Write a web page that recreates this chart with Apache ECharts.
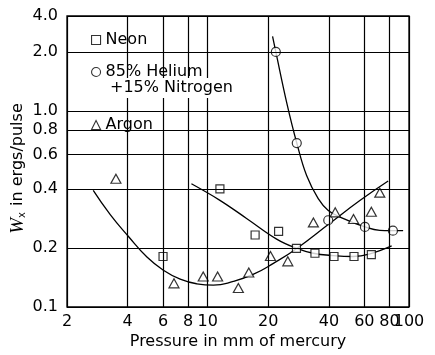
<!DOCTYPE html>
<html>
<head>
<meta charset="utf-8">
<script src="https://cdn.jsdelivr.net/npm/echarts@6/dist/echarts.min.js"></script>
<style>
  html, body { margin: 0; padding: 0; background: #fff; }
  #chart { width: 435px; height: 355px; }
</style>
</head>
<body>
<div id="chart"></div>
<script>
// ---- data ----
const neonX = [6.0, 11.5, 17.2, 22.5, 27.6, 34.1, 42.4, 53.3, 65.0];
const neonY = [0.181, 0.40, 0.233, 0.243, 0.199, 0.188, 0.181, 0.181, 0.185];

const heliumX = [21.8, 27.7, 39.7, 60.4, 83.2];
const heliumY = [2.0, 0.686, 0.277, 0.256, 0.245];

const argonX = [3.5, 6.8, 9.5, 11.2, 14.2, 16.0, 20.5, 25.0, 33.5, 43.0, 53.0, 65.0, 71.6];
const argonY = [0.451, 0.132, 0.143, 0.143, 0.125, 0.150, 0.182, 0.171, 0.270, 0.304, 0.281, 0.306, 0.383];

const neonCurveX = [8.3, 11.5, 15.6, 22.0, 27.7, 33.4, 42.0, 52.8, 63.4, 82.0];
const neonCurveY = [0.425, 0.35, 0.283, 0.222, 0.199, 0.188, 0.183, 0.181, 0.186, 0.205];

const heliumCurveX = [21.0, 21.8, 24.7, 27.7, 31.0, 35.4, 39.7, 47.0, 60.4, 71.6, 93.5];
const heliumCurveY = [2.4, 2.0, 1.10, 0.686, 0.468, 0.357, 0.311, 0.283, 0.256, 0.246, 0.245];

const argonCurveX = [2.7, 3.28, 4.04, 4.99, 6.03, 7.3, 8.83, 10.67, 13.4, 16.9, 21.2, 27.7, 40.0, 57.0, 78.8];
const argonCurveY = [0.393, 0.296, 0.229, 0.180, 0.154, 0.1386, 0.1313, 0.1293, 0.135, 0.147, 0.167, 0.199, 0.265, 0.349, 0.439];

// tick / grid values and labels
const xTickValues = [2, 4, 6, 8, 10, 20, 40, 60, 80, 100];
const xTickLabels = ['2', '4', '6', '8', '10', '20', '40', '60', '80', '100'];
const yTickValues = [0.1, 0.2, 0.4, 0.6, 0.8, 1.0, 2.0, 3.05]; // top of scale is compressed in the original
const yTickLabels = ['0.1', '0.2', '0.4', '0.6', '0.8', '1.0', '2.0', '4.0'];

const seriesNames = ['Neon', '85% Helium', 'Argon'];
const heliumSecondLine = '+15% Nitrogen';
const xTitle = 'Pressure in mm of mercury';

// ---- chart ----
const FONT = 'DejaVu Sans';
const zip = (xs, ys) => xs.map((x, i) => [x, ys[i]]);
const chart = echarts.init(document.getElementById('chart'), null, { renderer: 'canvas' });

const hollow = { color: '#fff', borderColor: '#000', borderWidth: 1.2 };
const curveStyle = { color: '#000', width: 1.3 };
const gridLineStyle = { color: '#000', width: 1.2, type: 'solid' };

const legendCommon = {
  orient: 'vertical',
  itemWidth: 9,
  itemHeight: 9,
  itemGap: 0,
  padding: [3, 4, 3, 4],
  backgroundColor: '#fff',
  selectedMode: false,
  itemStyle: { color: '#fff', borderColor: '#000', borderWidth: 1.1 },
  textStyle: { fontFamily: FONT, fontSize: 16, color: '#000', lineHeight: 18 }
};

const option = {
  animation: false,
  backgroundColor: '#fff',
  grid: { left: 67, right: 26, top: 16, bottom: 46, show: true, borderColor: '#000', borderWidth: 1.3, backgroundColor: 'transparent' },
  xAxis: {
    type: 'log', logBase: 10, min: 2, max: 100,
    axisLine: { show: false }, axisTick: { show: false }, axisLabel: { show: false }, splitLine: { show: false },
    name: xTitle, nameLocation: 'middle', nameGap: 27,
    nameTextStyle: { fontFamily: FONT, fontSize: 16, color: '#000' }
  },
  yAxis: {
    type: 'log', logBase: 10, min: 0.1, max: 3.05,
    axisLine: { show: false }, axisTick: { show: false }, axisLabel: { show: false }, splitLine: { show: false },
    name: '{w|W}{s|x} in ergs/pulse', nameLocation: 'middle', nameGap: 40,
    nameTextStyle: {
      fontFamily: FONT, fontSize: 16, color: '#000', padding: [0, 14, 0, 0],
      rich: {
        w: { fontFamily: 'Liberation Serif', fontStyle: 'italic', fontSize: 19, color: '#000' },
        s: { fontFamily: FONT, fontSize: 10, color: '#000', verticalAlign: 'bottom', padding: [0, 1, 0, 0] }
      }
    }
  },
  legend: [
    Object.assign({}, legendCommon, { data: [seriesNames[0]], left: 87, top: 28 }),
    Object.assign({}, legendCommon, { data: [seriesNames[1]], left: 87, top: 60 }),
    Object.assign({}, legendCommon, { data: [seriesNames[2]], left: 87, top: 113 })
  ],
  graphic: [{
    type: 'text', left: 107, top: 78, z: 100,
    style: { text: heliumSecondLine, font: '16px "DejaVu Sans"', fill: '#000', backgroundColor: '#fff', padding: [2, 3, 2, 3] }
  }],
  series: [
    {
      type: 'line', name: 'neon-curve', data: zip(neonCurveX, neonCurveY), smooth: 0.4, showSymbol: false, silent: true, z: 2,
      lineStyle: curveStyle,
      markLine: {
        silent: true, symbol: 'none', animation: false, emphasis: { disabled: true },
        lineStyle: gridLineStyle,
        label: { show: true, position: 'start', distance: 9, color: '#000', fontFamily: FONT, fontSize: 16 },
        data: yTickValues.map((v, i) => ({ yAxis: v, label: { formatter: yTickLabels[i] } }))
      }
    },
    {
      type: 'line', name: 'helium-curve', data: zip(heliumCurveX, heliumCurveY), smooth: 0.4, showSymbol: false, silent: true, z: 2,
      lineStyle: curveStyle,
      markLine: {
        silent: true, symbol: 'none', animation: false, emphasis: { disabled: true },
        lineStyle: gridLineStyle,
        label: { show: true, position: 'start', distance: 7, color: '#000', fontFamily: FONT, fontSize: 16 },
        data: xTickValues.map((v, i) => ({ xAxis: v, label: { formatter: xTickLabels[i] } }))
      }
    },
    {
      type: 'line', name: 'argon-curve', data: zip(argonCurveX, argonCurveY), smooth: 0.5, showSymbol: false, silent: true, z: 2,
      lineStyle: curveStyle
    },
    { type: 'scatter', name: seriesNames[0], data: zip(neonX, neonY), symbol: 'rect', symbolSize: 8, itemStyle: hollow, z: 3 },
    { type: 'scatter', name: seriesNames[1], data: zip(heliumX, heliumY), symbol: 'circle', symbolSize: 9, itemStyle: hollow, z: 3 },
    { type: 'scatter', name: seriesNames[2], data: zip(argonX, argonY), symbol: 'triangle', symbolSize: [10, 9], itemStyle: hollow, z: 3 }
  ]
};
chart.setOption(option);
</script>
</body>
</html>
